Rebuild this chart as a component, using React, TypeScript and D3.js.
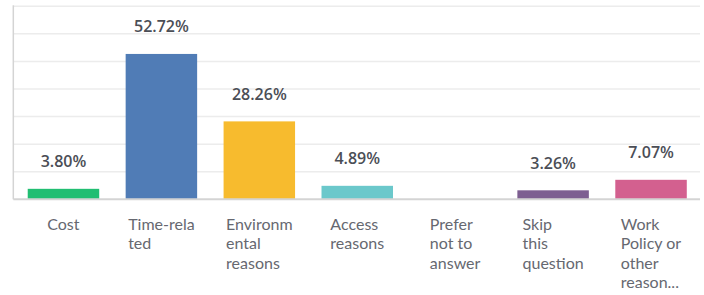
import React, { useEffect, useRef } from "react";
import * as d3 from "d3";

// answer choices, as wrapped in the original chart
const categories = ["Cost", "Time-related", "Environmental reasons", "Access reasons", "Prefer not to answer", "Skip this question", "Work Policy or other reasons"];
const labelLines = [
  ["Cost"],
  ["Time-rela", "ted"],
  ["Environm", "ental", "reasons"],
  ["Access", "reasons"],
  ["Prefer", "not to", "answer"],
  ["Skip", "this", "question"],
  ["Work", "Policy or", "other", "reason..."],
];
const values = [3.8, 52.72, 28.26, 4.89, 0, 3.26, 7.07];
const colors = ["#21be72", "#507cb6", "#f7bb2e", "#6bc8cb", "#ff8b4f", "#7d5e91", "#d3608f"];
const yTicks = [0, 10, 20, 30, 40, 50, 60, 70];

const App = () => {
  const ref = useRef<SVGSVGElement>(null);

  useEffect(() => {
    const svg = d3.select(ref.current);
    svg.selectAll("*").remove();

    const axisX = 13.3;
    const left = 14.5;
    const right = 700;
    const top = 6.3;
    const bottom = 199.3;

    const x = d3
      .scaleBand<string>()
      .domain(categories)
      .range([left, right])
      .paddingInner(0.27)
      .paddingOuter(0.135);

    const y = d3.scaleLinear().domain([0, 70]).range([bottom, top]);

    // gridlines
    svg
      .append("g")
      .selectAll("line")
      .data(yTicks.slice(1))
      .enter()
      .append("line")
      .attr("x1", axisX)
      .attr("x2", right)
      .attr("y1", (d) => y(d))
      .attr("y2", (d) => y(d))
      .attr("stroke", "#ececec")
      .attr("stroke-width", 1.5);

    // left axis line
    svg
      .append("line")
      .attr("x1", axisX)
      .attr("x2", axisX)
      .attr("y1", top - 1)
      .attr("y2", bottom)
      .attr("stroke", "#d4d4d4")
      .attr("stroke-width", 1.5);

    // bars
    svg
      .append("g")
      .selectAll("rect")
      .data(values)
      .enter()
      .append("rect")
      .attr("x", (d, i) => x(categories[i])!)
      .attr("y", (d) => y(d))
      .attr("width", x.bandwidth())
      .attr("height", (d) => bottom - y(d))
      .attr("fill", (d, i) => colors[i]);

    // baseline
    svg
      .append("line")
      .attr("x1", axisX)
      .attr("x2", right)
      .attr("y1", bottom)
      .attr("y2", bottom)
      .attr("stroke", "#d4d4d4")
      .attr("stroke-width", 2);

    // value labels
    svg
      .append("g")
      .selectAll("text")
      .data(values.map((v, i) => ({ v, c: categories[i] })).filter((d) => d.v > 0))
      .enter()
      .append("text")
      .attr("x", (d) => x(d.c)! + x.bandwidth() / 2)
      .attr("y", (d) => y(d.v) - 21.5)
      .attr("text-anchor", "middle")
      .style("font-family", "'Open Sans', sans-serif")
      .style("font-size", "16px")
      .style("font-weight", 600)
      .style("fill", "#4b4e56")
      .text((d) => d.v.toFixed(2) + "%");

    // category labels: block centred under the bar, lines left-aligned
    const labels = svg.append("g");
    labelLines.forEach((lines, i) => {
      const cx = x(categories[i])! + x.bandwidth() / 2;
      const t = labels
        .append("text")
        .style("font-family", "Lato, sans-serif")
        .style("font-size", "16px")
        .style("fill", "#666870");
      lines.forEach((line, j) => {
        t.append("tspan").attr("x", 0).attr("y", 230 + j * 19.3).text(line);
      });
      const w = (t.node() as SVGTextElement).getBBox().width;
      t.attr("transform", `translate(${cx - w / 2},0)`);
    });
  }, []);

  return (
    <svg
      ref={ref}
      width={704}
      height={295}
      style={{ position: "absolute", left: 0, top: 0, background: "#fff" }}
    ></svg>
  );
};

export default App;
